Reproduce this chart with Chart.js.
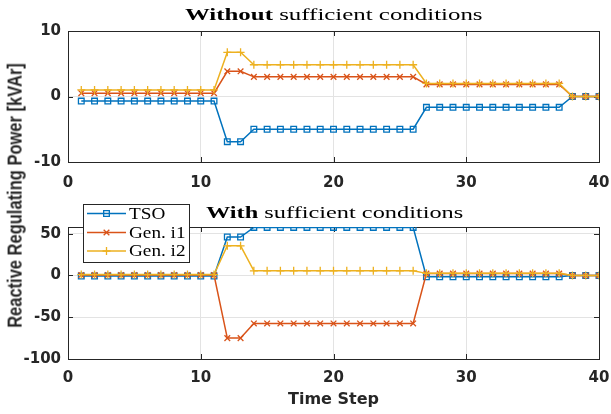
<!DOCTYPE html>
<html><head><meta charset="utf-8">
<script src="https://cdn.jsdelivr.net/npm/chart.js@4.4.0/dist/chart.umd.min.js"></script>
<style>
html,body{margin:0;padding:0;background:#fff;}
#wrap{position:relative;width:611px;height:414px;overflow:hidden;background:#fff;}
canvas{position:absolute;left:0;}
#c1{top:0;width:611px;height:195px;}
#c2{top:195px;width:611px;height:219px;}
.title{position:absolute;white-space:nowrap;font-family:"Liberation Serif",serif;font-size:16px;line-height:16px;color:#000;transform-origin:center center;}
#ylab{position:absolute;white-space:nowrap;font-family:"Liberation Sans",Arial,sans-serif;font-weight:bold;font-size:16.5px;line-height:17px;color:#262626;width:270px;height:17px;text-align:center;left:-120px;top:187px;transform-origin:center center;transform:rotate(-90deg) scaleY(1.2);}
</style></head>
<body><div id="wrap">
<canvas id="c1" width="611" height="195"></canvas>
<canvas id="c2" width="611" height="219"></canvas>
<div class="title" id="t1"><b>Without</b> sufficient conditions</div>
<div class="title" id="t2"><b>With</b> sufficient conditions</div>
<div id="ylab">Reactive Regulating Power [kVAr]</div>
</div>
<script>
// ---- data ----
const timeSteps = [1,2,3,4,5,6,7,8,9,10,11,12,13,14,15,16,17,18,19,20,21,22,23,24,25,26,27,28,29,30,31,32,33,34,35,36,37,38,39,40];
const seriesNames = ["TSO", "Gen. i1", "Gen. i2"];
const xTicks = [0, 10, 20, 30, 40];
const yTicksTop = [-10, 0, 10];
const yTicksBottom = [-100, -50, 0, 50];

// Without sufficient conditions
const tsoWithout = [-0.7,-0.7,-0.7,-0.7,-0.7,-0.7,-0.7,-0.7,-0.7,-0.7,-0.7,-6.9,-6.9,-5.0,-5.0,-5.0,-5.0,-5.0,-5.0,-5.0,-5.0,-5.0,-5.0,-5.0,-5.0,-5.0,-1.65,-1.65,-1.65,-1.65,-1.65,-1.65,-1.65,-1.65,-1.65,-1.65,-1.65,0,0,0];
const gen1Without = [0.5,0.5,0.5,0.5,0.5,0.5,0.5,0.5,0.5,0.5,0.5,3.85,3.85,3.0,3.0,3.0,3.0,3.0,3.0,3.0,3.0,3.0,3.0,3.0,3.0,3.0,1.85,1.85,1.85,1.85,1.85,1.85,1.85,1.85,1.85,1.85,1.85,0,0,0];
const gen2Without = [1.0,1.0,1.0,1.0,1.0,1.0,1.0,1.0,1.0,1.0,1.0,6.75,6.75,4.85,4.85,4.85,4.85,4.85,4.85,4.85,4.85,4.85,4.85,4.85,4.85,4.85,2.0,2.0,2.0,2.0,2.0,2.0,2.0,2.0,2.0,2.0,2.0,0,0,0];

// With sufficient conditions
const tsoWith = [-0.7,-0.7,-0.7,-0.7,-0.7,-0.7,-0.7,-0.7,-0.7,-0.7,-0.7,46,46,57.5,57.5,57.5,57.5,57.5,57.5,57.5,57.5,57.5,57.5,57.5,57.5,57.5,-1.6,-1.6,-1.6,-1.6,-1.6,-1.6,-1.6,-1.6,-1.6,-1.6,-1.6,0,0,0];
const gen1With = [0.5,0.5,0.5,0.5,0.5,0.5,0.5,0.5,0.5,0.5,0.5,-75,-75,-57.5,-57.5,-57.5,-57.5,-57.5,-57.5,-57.5,-57.5,-57.5,-57.5,-57.5,-57.5,-57.5,2.2,2.2,2.2,2.2,2.2,2.2,2.2,2.2,2.2,2.2,2.2,0,0,0];
const gen2With = [1.0,1.0,1.0,1.0,1.0,1.0,1.0,1.0,1.0,1.0,1.0,35.5,35.5,5.5,5.5,5.5,5.5,5.5,5.5,5.5,5.5,5.5,5.5,5.5,5.5,5.5,2.5,2.5,2.5,2.5,2.5,2.5,2.5,2.5,2.5,2.5,2.5,0,0,0];

// ---- styles ----
const COLORS = ["#0072BD", "#D95319", "#EDB120"];
const MARKERS = ["rect", "crossRot", "cross"];
const RADII = [4, 4, 4];
const AXIS = "#262626";
const GRID = "#e3e3e3";

function pts(vals){ return timeSteps.map((x,i)=>({x:x, y:vals[i]})); }
function makeDatasets(a,b,c){
  return [a,b,c].map((v,i)=>({
    label: seriesNames[i],
    data: pts(v),
    borderColor: COLORS[i],
    backgroundColor: COLORS[i],
    borderWidth: 1.5,
    pointStyle: MARKERS[i],
    pointRadius: RADII[i],
    pointBorderWidth: 1.3,
    pointBorderColor: COLORS[i],
    pointBackgroundColor: 'rgba(255,255,255,0)',
    tension: 0,
    order: 2 - i
  }));
}

const tickFont = {family: '"DejaVu Sans", sans-serif', size: 15, weight: 'bold'};

const frame = {
  id: 'frame',
  beforeDatasetsDraw(chart){
    const {ctx, chartArea:a} = chart;
    ctx.save();
    ctx.strokeStyle = AXIS; ctx.lineWidth = 1;
    ctx.strokeRect(Math.round(a.left)+0.5, Math.round(a.top)+0.5, Math.round(a.right-a.left), Math.round(a.bottom-a.top));
    const L = 5;
    ctx.beginPath();
    chart.scales.x.ticks.forEach(t=>{
      const px = Math.round(chart.scales.x.getPixelForValue(t.value))+0.5;
      ctx.moveTo(px, a.bottom); ctx.lineTo(px, a.bottom-L);
      ctx.moveTo(px, a.top); ctx.lineTo(px, a.top+L);
    });
    chart.scales.y.ticks.forEach(t=>{
      const py = Math.round(chart.scales.y.getPixelForValue(t.value))+0.5;
      ctx.moveTo(a.left, py); ctx.lineTo(a.left+L, py);
      ctx.moveTo(a.right, py); ctx.lineTo(a.right-L, py);
    });
    ctx.stroke();
    ctx.restore();
  }
};

function drawMarker(ctx, style, x, y, r){
  ctx.beginPath();
  if(style==='rect'){
    const s = r*Math.SQRT1_2;
    ctx.rect(x-s, y-s, 2*s, 2*s);
  } else if(style==='crossRot'){
    const s = r*Math.SQRT1_2;
    ctx.moveTo(x-s,y-s); ctx.lineTo(x+s,y+s);
    ctx.moveTo(x-s,y+s); ctx.lineTo(x+s,y-s);
  } else {
    ctx.moveTo(x-r,y); ctx.lineTo(x+r,y);
    ctx.moveTo(x,y-r); ctx.lineTo(x,y+r);
  }
  ctx.stroke();
}

const legendBox = {
  id: 'legendBox',
  afterDraw(chart){
    const ctx = chart.ctx;
    ctx.save();
    const bx = 83.5, by = 9.5, bw = 106, bh = 58;
    ctx.fillStyle = '#fff';
    ctx.fillRect(bx, by, bw, bh);
    ctx.strokeStyle = AXIS; ctx.lineWidth = 1;
    ctx.strokeRect(bx, by, bw, bh);
    const rows = [18.5, 37.5, 56];
    chart.data.datasets.forEach((ds, i)=>{
      const y = rows[i];
      ctx.strokeStyle = ds.borderColor; ctx.lineWidth = 1.5;
      ctx.beginPath(); ctx.moveTo(87, y); ctx.lineTo(126, y); ctx.stroke();
      ctx.lineWidth = 1.3;
      drawMarker(ctx, ds.pointStyle, 106.5, y, ds.pointRadius);
      ctx.save();
      ctx.translate(129, y);
      ctx.scale(1.2, 1.05);
      ctx.fillStyle = '#000';
      ctx.font = '16px "Liberation Serif", serif';
      ctx.textBaseline = 'middle';
      ctx.textAlign = 'left';
      ctx.fillText(ds.label, 0, 1);
      ctx.restore();
    });
    ctx.restore();
  }
};

function baseOptions(yMin, yMax, yTickList, padTop, xHeight, tickPad, showTitle){
  return {
    responsive: false,
    animation: false,
    devicePixelRatio: 1,
    layout: {padding: {top: padTop, right: 12, left: 0, bottom: 0}},
    plugins: {legend: {display: false}, tooltip: {enabled: false}, title: {display: false}},
    scales: {
      x: {
        type: 'linear', min: 0, max: 40,
        afterBuildTicks: s => { s.ticks = xTicks.map(v=>({value:v})); },
        afterFit: s => { s.height = xHeight; s.paddingLeft = 0; s.paddingRight = 0; },
        grid: {color: GRID, lineWidth: 1, drawTicks: false},
        border: {color: AXIS, width: 1},
        ticks: {font: tickFont, color: AXIS, padding: tickPad, maxRotation: 0},
        title: showTitle ? {display: true, text: 'Time Step', color: AXIS,
                 font: {family: '"DejaVu Sans", sans-serif', size: 16, weight: 'bold'},
                 padding: {top: 0, bottom: 5}} : {display: false}
      },
      y: {
        type: 'linear', min: yMin, max: yMax,
        afterBuildTicks: s => { s.ticks = yTickList.map(v=>({value:v})); },
        afterFit: s => { s.width = 68; s.paddingTop = 0; s.paddingBottom = 0; },
        grid: {color: GRID, lineWidth: 1, drawTicks: false},
        border: {color: AXIS, width: 1},
        ticks: {font: tickFont, color: AXIS, padding: 7}
      }
    }
  };
}

new Chart(document.getElementById('c1'), {
  type: 'line',
  data: {datasets: makeDatasets(tsoWithout, gen1Without, gen2Without)},
  options: baseOptions(-10, 10, yTicksTop, 31, 33, 12, false),
  plugins: [frame]
});

new Chart(document.getElementById('c2'), {
  type: 'line',
  data: {datasets: makeDatasets(tsoWith, gen1With, gen2With)},
  options: baseOptions(-100, 58, yTicksBottom, 32, 55, 10, true),
  plugins: [frame, legendBox]
});

// ---- titles placement ----
function place(id, cx, cy, targetW){
  const el = document.getElementById(id);
  const w = el.offsetWidth, h = el.offsetHeight;
  el.style.left = (cx - w/2) + 'px';
  el.style.top = (cy - h/2) + 'px';
  el.style.transform = 'scaleX(' + (targetW / w) + ')';
}
place('t1', 333.5, 14.5, 297);
place('t2', 334, 212.5, 257);
</script>
</body></html>
